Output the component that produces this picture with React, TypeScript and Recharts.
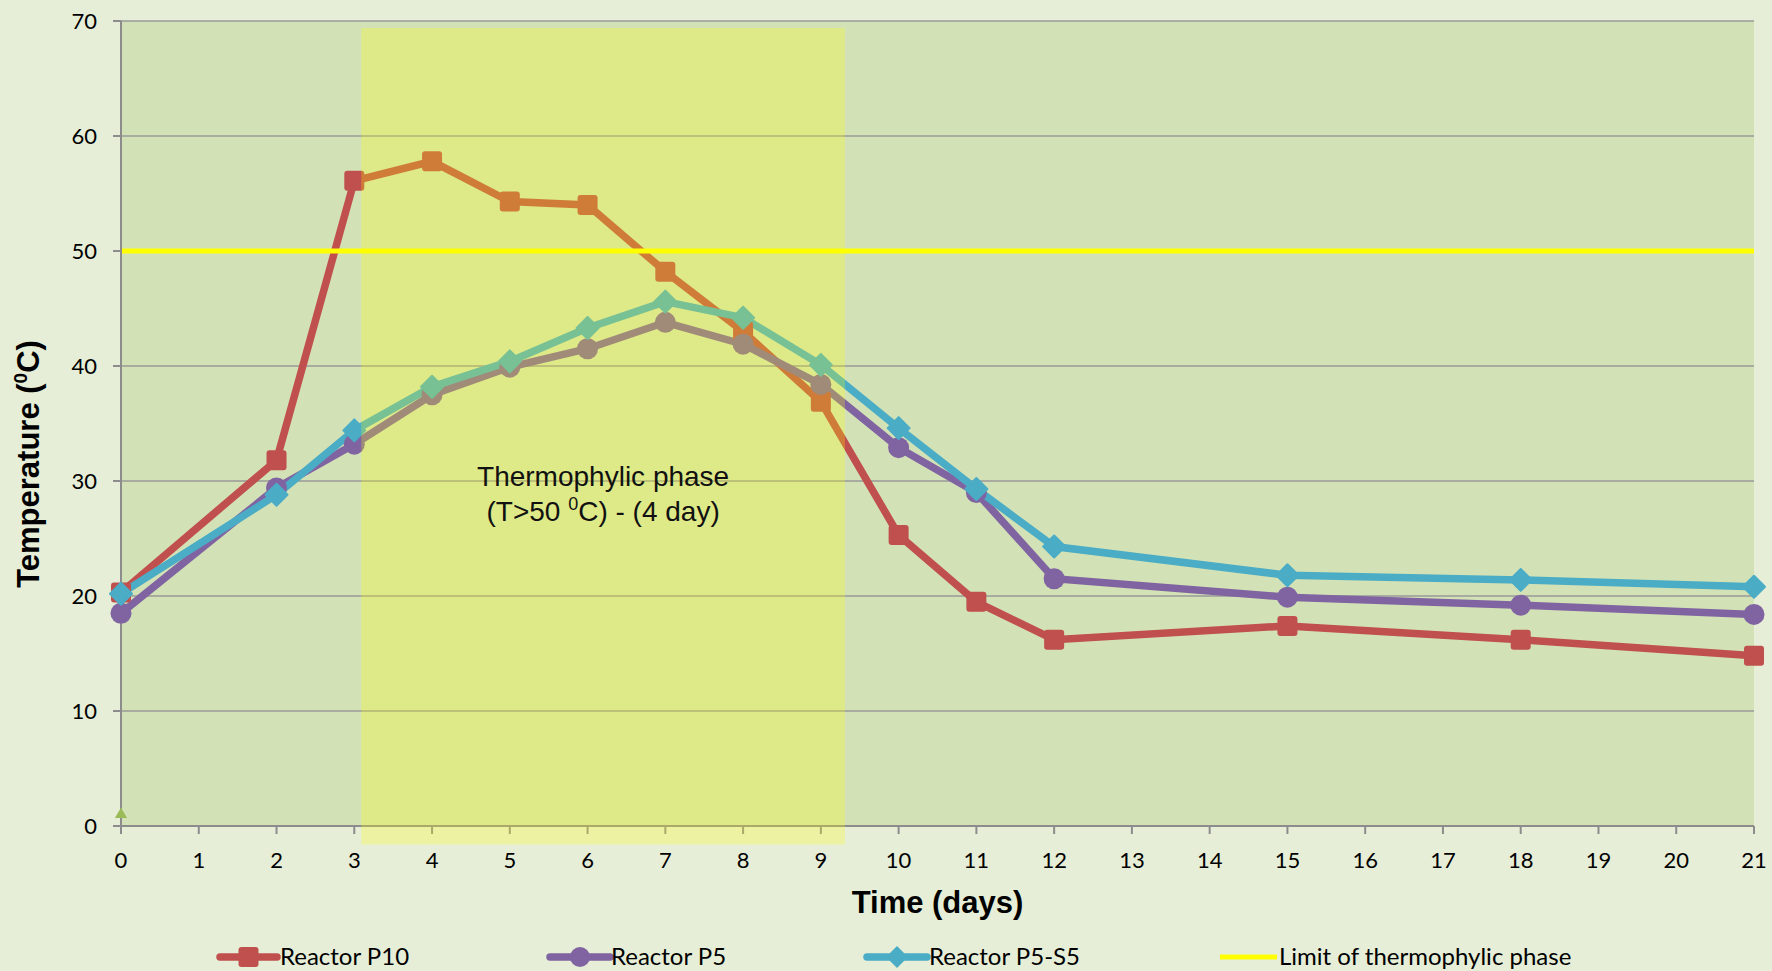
import { ComposedChart, Line, Scatter, XAxis, YAxis, CartesianGrid, ReferenceArea, Label } from 'recharts';

// sampling days and measured temperatures (°C)
const days = [0, 2, 3, 4, 5, 6, 7, 8, 9, 10, 11, 12, 15, 18, 21];
const reactorP10 = [20.3, 31.8, 56.1, 57.8, 54.3, 54.0, 48.2, 43.0, 36.9, 25.3, 19.5, 16.2, 17.4, 16.2, 14.8];
const reactorP5 = [18.5, 29.4, 33.2, 37.5, 39.9, 41.5, 43.8, 41.9, 38.4, 32.9, 29.0, 21.5, 19.9, 19.2, 18.4];
const reactorP5S5 = [20.2, 28.8, 34.4, 38.2, 40.4, 43.3, 45.6, 44.2, 40.1, 34.6, 29.3, 24.3, 21.8, 21.4, 20.8];
const thermophylicLimit = 50;

// stray point at day 0
const startMarker = [{ day: 0, value: 1 }];

// thermophylic phase band
const phaseStart = 3.09;
const phaseEnd = 9.31;
const phaseBottom = -1.6;
const phaseTop = 69.4;

const dayTicks = [0, 1, 2, 3, 4, 5, 6, 7, 8, 9, 10, 11, 12, 13, 14, 15, 16, 17, 18, 19, 20, 21];
const tempTicks = [0, 10, 20, 30, 40, 50, 60, 70];

const RED = '#c0504d';
const PURPLE = '#8064a2';
const CYAN = '#4bacc6';
const YELLOW = '#ffff00';
const TICK_FONT = 'Lato, "Open Sans", sans-serif';
const TITLE_FONT = '"Liberation Sans", Arial, sans-serif';

const chartData = days.map((day, i) => ({
  day,
  p10: reactorP10[i],
  p5: reactorP5[i],
  p5s5: reactorP5S5[i],
  limit: thermophylicLimit,
}));

const SquareDot = (props: any) => {
  const { cx, cy } = props;
  if (cx == null || cy == null) return null;
  return <rect x={cx - 10} y={cy - 10} width={20} height={20} rx={3} fill={RED} />;
};

const CircleDot = (props: any) => {
  const { cx, cy } = props;
  if (cx == null || cy == null) return null;
  return <circle cx={cx} cy={cy} r={10.5} fill={PURPLE} />;
};

const DiamondDot = (props: any) => {
  const { cx, cy } = props;
  if (cx == null || cy == null) return null;
  const s = 11;
  return (
    <path
      d={`M${cx},${cy - s}L${cx + s},${cy}L${cx},${cy + s}L${cx - s},${cy}Z`}
      fill={CYAN}
      stroke={CYAN}
      strokeWidth={2}
      strokeLinejoin="round"
    />
  );
};

const PhaseLabel = (props: any) => {
  const { viewBox } = props;
  if (!viewBox) return null;
  const cx = viewBox.x + viewBox.width / 2;
  return (
    <text x={cx} textAnchor="middle" fontFamily={TITLE_FONT} fontSize={28} fill="#111">
      <tspan x={cx} y={viewBox.y + 458}>Thermophylic phase</tspan>
      <tspan x={cx} y={viewBox.y + 493}>(T&gt;50 </tspan>
      <tspan fontSize={18} dy={-11}>0</tspan>
      <tspan dy={11}>C) - (4 day)</tspan>
    </text>
  );
};

const legendItems = [
  { name: 'Reactor P10', color: RED, x1: 220, x2: 277, textX: 280, marker: 'square' },
  { name: 'Reactor P5', color: PURPLE, x1: 550, x2: 610, textX: 611, marker: 'circle' },
  { name: 'Reactor P5-S5', color: CYAN, x1: 867, x2: 927, textX: 929, marker: 'diamond' },
  { name: 'Limit of thermophylic phase', color: YELLOW, x1: 1220, x2: 1277, textX: 1279, marker: 'none' },
];

function LegendMarker({ kind, cx, cy, color }: { kind: string; cx: number; cy: number; color: string }) {
  if (kind === 'square') return <rect x={cx - 10} y={cy - 10} width={20} height={20} rx={3} fill={color} />;
  if (kind === 'circle') return <circle cx={cx} cy={cy} r={10} fill={color} />;
  if (kind === 'diamond') return <path d={`M${cx},${cy - 11}L${cx + 11},${cy}L${cx},${cy + 11}L${cx - 11},${cy}Z`} fill={color} />;
  return null;
}

export default function App() {
  const legendY = 957;
  return (
    <div style={{ position: 'relative', width: 1772, height: 971, background: '#e6eed7', overflow: 'hidden' }}>
      <style>{'body{margin:0}'}</style>
      <ComposedChart width={1772} height={971} data={chartData} margin={{ top: 21, right: 18, left: 0, bottom: 95 }}>
        <CartesianGrid vertical={false} stroke="#999999" strokeWidth={1.5} fill="#d3e2b6" fillOpacity={1} />
        <XAxis
          dataKey="day"
          type="number"
          domain={[0, 21]}
          ticks={dayTicks}
          interval={0}
          height={50}
          stroke="#8c8c8c"
          strokeWidth={2}
          tickSize={8}
          tickMargin={18}
          tick={{ fill: '#000', fontSize: 22, fontFamily: TICK_FONT }}
        >
          <Label
            value="Time (days)"
            position="bottom"
            offset={15}
            style={{ fontFamily: TITLE_FONT, fontSize: 31, fontWeight: 'bold', fill: '#000' }}
          />
        </XAxis>
        <YAxis
          type="number"
          domain={[0, 70]}
          ticks={tempTicks}
          width={121}
          stroke="#8c8c8c"
          strokeWidth={2}
          tickSize={8}
          tickMargin={16}
          tick={{ fill: '#000', fontSize: 22, fontFamily: TICK_FONT }}
        />
        <Line dataKey="p10" stroke={RED} strokeWidth={7.5} dot={SquareDot} activeDot={false} isAnimationActive={false} />
        <Line dataKey="p5" stroke={PURPLE} strokeWidth={7.5} dot={CircleDot} activeDot={false} isAnimationActive={false} />
        <Line dataKey="p5s5" stroke={CYAN} strokeWidth={7.5} dot={DiamondDot} activeDot={false} isAnimationActive={false} />
        <Line dataKey="limit" stroke={YELLOW} strokeWidth={5} dot={false} activeDot={false} isAnimationActive={false} />
        <Scatter data={startMarker} dataKey="value" shape="triangle" fill="#9bbb59" isAnimationActive={false} />
        {/* translucent band drawn over the series */}
        <ReferenceArea
          x1={phaseStart}
          x2={phaseEnd}
          y1={phaseBottom}
          y2={phaseTop}
          ifOverflow="visible"
          fill="#ffff00"
          fillOpacity={0.25}
          stroke="none"
          label={PhaseLabel}
          zIndex={1000}
        />
      </ComposedChart>
      <svg width={1772} height={971} style={{ position: 'absolute', left: 0, top: 0, pointerEvents: 'none' }}>
        <text
          transform="translate(39,464) rotate(-90)"
          textAnchor="middle"
          fontFamily={TITLE_FONT}
          fontSize={31}
          fontWeight="bold"
          fill="#000"
        >
          <tspan>Temperature (</tspan>
          <tspan fontSize={19} dy={-12}>0</tspan>
          <tspan dy={12}>C)</tspan>
        </text>
        {legendItems.map((item) => {
          const cx = (item.x1 + item.x2) / 2;
          return (
            <g key={item.name}>
              <line
                x1={item.x1}
                x2={item.x2}
                y1={legendY}
                y2={legendY}
                stroke={item.color}
                strokeWidth={item.marker === 'none' ? 5 : 7.5}
                strokeLinecap={item.marker === 'none' ? 'butt' : 'round'}
              />
              <LegendMarker kind={item.marker} cx={cx} cy={legendY} color={item.color} />
              <text x={item.textX} y={legendY + 8} fontFamily={TICK_FONT} fontSize={24} fill="#000">
                {item.name}
              </text>
            </g>
          );
        })}
      </svg>
    </div>
  );
}
